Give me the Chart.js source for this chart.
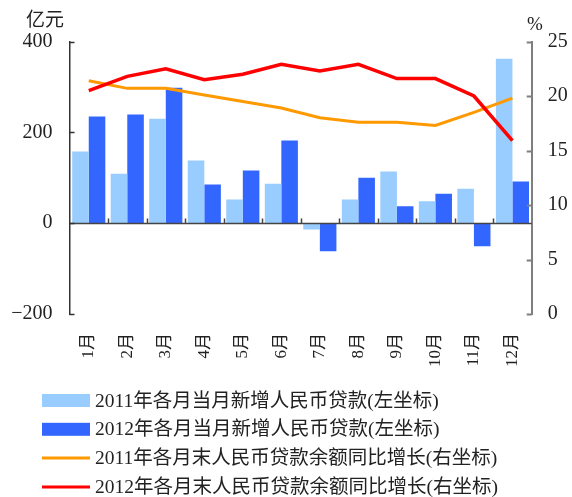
<!DOCTYPE html>
<html>
  <head>
    <meta charset="utf-8">
    <title>人民币贷款</title>
    <style>
      body { margin: 0; background: #fff; }
      #wrap { width: 572px; height: 497px; }
    </style>
  </head>
  <body>
    <script src="https://cdn.jsdelivr.net/npm/chart.js@4.4.1/dist/chart.umd.min.js"></script>

    <div id="wrap"><canvas id="loanChart" width="572" height="497"></canvas></div>

    <script>
      // data
      const months = ["1月", "2月", "3月", "4月", "5月", "6月", "7月", "8月", "9月", "10月", "11月", "12月"];
      const loans2011 = [158, 109, 230, 138, 52, 87, -14, 52, 114, 48, 76, 362];
      const loans2012 = [235, 239, 298, 85, 116, 182, -62, 100, 37, 65, -51, 92];
      const growth2011 = [21.4, 20.7, 20.7, 20.1, 19.5, 18.9, 18.0, 17.6, 17.6, 17.3, 18.5, 19.8];
      const growth2012 = [20.5, 21.8, 22.5, 21.5, 22.0, 22.9, 22.3, 22.9, 21.6, 21.6, 20.0, 15.9];
      const leftTicks = [-200, 0, 200, 400];
      const rightTicks = [0, 5, 10, 15, 20, 25];

      const numFont = "'Liberation Serif', 'Noto Sans CJK SC', serif";
      const textColor = "#222";

      // axis units, zero line with its small ticks, inward axis ticks, legend
      const extras = {
        id: "extras",
        afterDatasetsDraw(chart) {
          const c = chart.ctx;
          const a = chart.chartArea;
          const x = chart.scales.x;
          const y = chart.scales.y;
          const y1 = chart.scales.y1;
          c.save();

          // zero line
          const y0 = Math.round(y.getPixelForValue(0)) + 0.5;
          c.strokeStyle = "#444";
          c.lineWidth = 1.5;
          c.beginPath();
          c.moveTo(a.left, y0);
          c.lineTo(a.right, y0);
          for (let i = 1; i < months.length; i++) {
            const bx = Math.round((x.getPixelForValue(i - 1) + x.getPixelForValue(i)) / 2) + 0.5;
            c.moveTo(bx, y0);
            c.lineTo(bx, y0 - 5);
          }
          c.stroke();

          // inward ticks on the left axis
          c.strokeStyle = "#333";
          c.beginPath();
          leftTicks.forEach(v => {
            const py = Math.round(y.getPixelForValue(v)) + 0.5;
            c.moveTo(a.left, py);
            c.lineTo(a.left + 5, py);
          });
          c.stroke();

          // inward ticks on the right axis
          c.strokeStyle = "#7f7f7f";
          c.lineWidth = 2;
          c.beginPath();
          rightTicks.forEach(v => {
            const py = Math.round(y1.getPixelForValue(v)) + 0.5;
            c.moveTo(a.right, py);
            c.lineTo(a.right - 5, py);
          });
          c.stroke();

          // units
          c.fillStyle = textColor;
          c.font = "19px " + numFont;
          c.textBaseline = "middle";
          c.textAlign = "left";
          c.fillText("亿元", 26, 21);
          c.fillText("%", 527, 25);

          // legend, one entry per row
          let ly = 400.5;
          chart.data.datasets.forEach(ds => {
            if (ds.type === "line") {
              c.strokeStyle = ds.borderColor;
              c.lineWidth = 3;
              c.beginPath();
              c.moveTo(42, ly);
              c.lineTo(90, ly);
              c.stroke();
            } else {
              c.fillStyle = ds.backgroundColor;
              c.fillRect(42, ly - 6.5, 48, 13);
            }
            c.fillStyle = textColor;
            c.font = "19.5px " + numFont;
            c.fillText(ds.label, 95, ly + 1);
            ly += 28.8;
          });
          c.restore();
        }
      };

      const ctx = document.getElementById("loanChart").getContext("2d");

      const chart = new Chart(ctx, {
        type: "bar",
        data: {
          labels: months,
          datasets: [
            {
              label: "2011年各月当月新增人民币贷款(左坐标)",
              data: loans2011,
              backgroundColor: "#99ccff",
              yAxisID: "y",
              order: 2,
              categoryPercentage: 0.86,
              barPercentage: 1
            },
            {
              label: "2012年各月当月新增人民币贷款(左坐标)",
              data: loans2012,
              backgroundColor: "#3366ff",
              yAxisID: "y",
              order: 2,
              categoryPercentage: 0.86,
              barPercentage: 1
            },
            {
              type: "line",
              label: "2011年各月末人民币贷款余额同比增长(右坐标)",
              data: growth2011,
              borderColor: "#ff9900",
              backgroundColor: "#ff9900",
              borderWidth: 3,
              pointRadius: 0,
              tension: 0,
              yAxisID: "y1",
              order: 1
            },
            {
              type: "line",
              label: "2012年各月末人民币贷款余额同比增长(右坐标)",
              data: growth2012,
              borderColor: "#ff0000",
              backgroundColor: "#ff0000",
              borderWidth: 3.5,
              pointRadius: 0,
              tension: 0,
              yAxisID: "y1",
              order: 0
            }
          ]
        },
        options: {
          responsive: false,
          animation: false,
          layout: { padding: { top: 41.5, left: 0, right: 0, bottom: 0 } },
          plugins: {
            legend: { display: false },
            tooltip: { enabled: false }
          },
          scales: {
            x: {
              position: "bottom",
              grid: { display: false, drawTicks: false },
              border: { display: false },
              ticks: {
                minRotation: 90,
                maxRotation: 90,
                autoSkip: false,
                padding: 19,
                color: textColor,
                font: { family: numFont, size: 17 }
              },
              afterFit(scale) { scale.height = 183; }
            },
            y: {
              position: "left",
              min: -200,
              max: 400,
              grid: { display: false, drawTicks: false },
              border: { display: true, color: "#333", width: 1.5 },
              ticks: {
                stepSize: 200,
                padding: 17,
                color: textColor,
                font: { family: numFont, size: 20 },
                callback: v => v < 0 ? "\u2212" + Math.abs(v) : String(v)
              },
              afterFit(scale) { scale.width = 69.5; }
            },
            y1: {
              position: "right",
              min: 0,
              max: 25,
              grid: { display: false, drawTicks: false },
              border: { display: true, color: "#7f7f7f", width: 2 },
              ticks: {
                stepSize: 5,
                padding: 16,
                color: textColor,
                font: { family: numFont, size: 20 }
              },
              afterFit(scale) { scale.width = 40.3; }
            }
          }
        },
        plugins: [extras]
      });
    </script>
  </body>
</html>
